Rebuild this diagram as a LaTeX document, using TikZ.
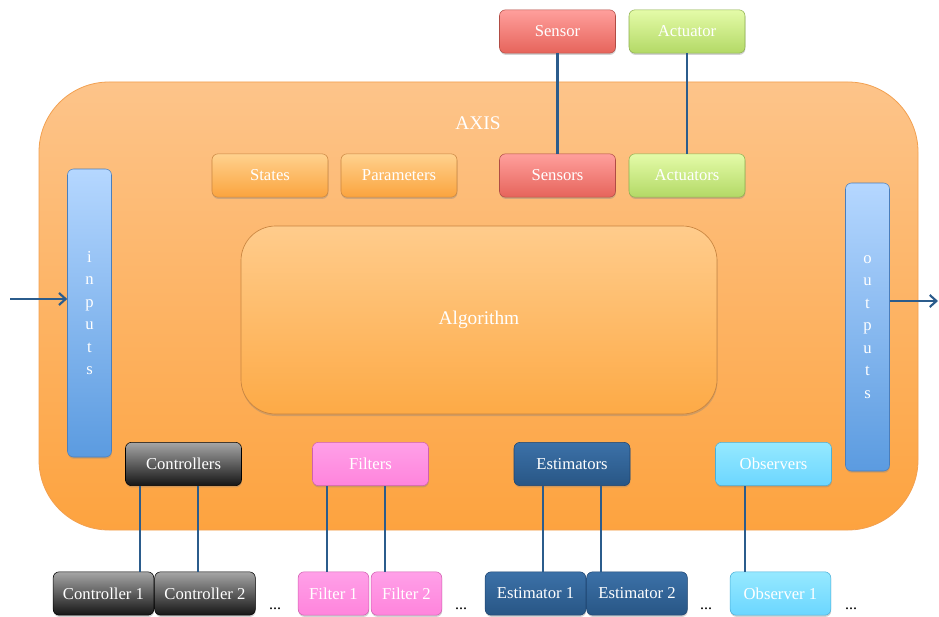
\documentclass[tikz,border=0pt]{standalone}
\usepackage{fontspec}
\setmainfont{Liberation Serif}
\usetikzlibrary{shadows,calc,arrows.meta}

\definecolor{linkblue}{HTML}{2B5C8C}
\definecolor{axistop}{HTML}{FDC48A}
\definecolor{axisbot}{HTML}{FDA33F}
\definecolor{axisline}{HTML}{F2A050}
\definecolor{algtop}{HTML}{FFCC8C}
\definecolor{algbot}{HTML}{FDAA46}
\definecolor{orgtop}{HTML}{FFD18E}
\definecolor{orgbot}{HTML}{FBA43E}
\definecolor{orgline}{HTML}{C98540}
\definecolor{redtop}{HTML}{FF9F9C}
\definecolor{redbot}{HTML}{E6645B}
\definecolor{redline}{HTML}{B04C44}
\definecolor{grntop}{HTML}{E4FBA8}
\definecolor{grnbot}{HTML}{B3D966}
\definecolor{grnline}{HTML}{8CAE4E}
\definecolor{bartop}{HTML}{B5D7FF}
\definecolor{barbot}{HTML}{5B9BE0}
\definecolor{barline}{HTML}{4A7EBC}
\definecolor{blktop}{HTML}{A6A6A6}
\definecolor{blkmid}{HTML}{4A4A4A}
\definecolor{blkbot}{HTML}{151515}
\definecolor{pnktop}{HTML}{FFA0E8}
\definecolor{pnkbot}{HTML}{FF84DC}
\definecolor{pnkline}{HTML}{D060B0}
\definecolor{esttop}{HTML}{3C71A8}
\definecolor{estbot}{HTML}{285685}
\definecolor{estline}{HTML}{1E4470}
\definecolor{cyntop}{HTML}{96E9FF}
\definecolor{cynbot}{HTML}{6BD6FF}
\definecolor{cynline}{HTML}{4AAFD8}

\begin{document}
\begin{tikzpicture}[x=0.75pt,y=-0.75pt,
  unit/.style={rounded corners=4.5pt, inner sep=0pt, text=white,
    font=\fontsize{12.5}{15}\selectfont, line width=0.4pt,
    drop shadow={shadow xshift=0.3pt, shadow yshift=-1.3pt, opacity=0.35}},
  wide/.style={unit, minimum width=87pt, minimum height=32.5pt},
  half/.style={unit, minimum width=75.5pt, minimum height=32.5pt},
  narrow/.style={unit, minimum width=53pt, minimum height=32.5pt},
  orangebox/.style={top color=orgtop, bottom color=orgbot, draw=orgline},
  redbox/.style={top color=redtop, bottom color=redbot, draw=redline},
  greenbox/.style={top color=grntop, bottom color=grnbot, draw=grnline},
  barbox/.style={top color=bartop, bottom color=barbot, draw=barline},
  blackbox/.style={top color=blktop, middle color=blkmid, bottom color=blkbot, draw=black},
  pinkbox/.style={top color=pnktop, bottom color=pnkbot, draw=pnkline},
  estbox/.style={top color=esttop, bottom color=estbot, draw=estline},
  cyanbox/.style={top color=cyntop, bottom color=cynbot, draw=cynline},
  link/.style={draw=linkblue, line width=2.2pt},
  feed/.style={draw=linkblue, line width=1.6pt, -{Straight Barb[length=5pt,width=9pt,line width=1.6pt]}},
  more/.style={anchor=base, font=\fontsize{12}{14}\selectfont, text=black, inner sep=0pt},
  bigtext/.style={text=white, font=\fontsize{14.5}{17}\selectfont}
]
\useasboundingbox (0,0) rectangle (939,617);

% enclosing block
\node[rounded corners=52.5pt, minimum width=659.25pt, minimum height=336pt,
      top color=axistop, bottom color=axisbot, draw=axisline, line width=0.6pt]
      (axis) at (478.5,306) {};
\node[bigtext] (axislabel) at (478,123) {AXIS};

% central algorithm block
\node[rounded corners=26pt, minimum width=357pt, minimum height=141pt, inner sep=0pt,
      top color=algtop, bottom color=algbot, draw=orgline, line width=0.5pt, bigtext,
      drop shadow={shadow xshift=0.3pt, shadow yshift=-1.5pt, opacity=0.35}]
      (alg) at (479,320) {Algorithm};

% input / output bars
\node[unit, barbox, minimum width=33pt, minimum height=216pt, align=center,
      font=\fontsize{12.5}{16.9}\selectfont] (inputs) at (89.5,313) {i\\n\\p\\u\\t\\s};
\node[unit, barbox, minimum width=33pt, minimum height=216pt, align=center,
      font=\fontsize{12.5}{16.9}\selectfont] (outputs) at (867.5,327) {o\\u\\t\\p\\u\\t\\s};

% top row inside the block
\node[wide, orangebox] (states) at (270,175.5) {States};
\node[wide, orangebox] (params) at (399,175.5) {Parameters};
\node[wide, redbox]    (sensors) at (557.5,175.5) {Sensors};
\node[wide, greenbox]  (actuators) at (687,175.5) {Actuators};

% external devices
\node[wide, redbox]   (sensor) at (557.5,31.5) {Sensor};
\node[wide, greenbox] (actuator) at (687,31.5) {Actuator};

% bottom row inside the block
\node[wide, blackbox] (ctrls) at (183.5,464) {Controllers};
\node[wide, pinkbox]  (filts) at (370.5,464) {Filters};
\node[wide, estbox]   (ests)  at (572,464) {Estimators};
\node[wide, cyanbox]  (obss)  at (773.5,464) {Observers};

% instances
\node[half, blackbox]  (c1) at (103.5,593.5) {Controller 1};
\node[half, blackbox]  (c2) at (205,593.5) {Controller 2};
\node[narrow, pinkbox] (f1) at (333.5,593.5) {Filter 1};
\node[narrow, pinkbox] (f2) at (406.5,593.5) {Filter 2};
\node[half, estbox]    (e1) at (535.5,593.5) {Estimator 1};
\node[half, estbox]    (e2) at (637,593.5) {Estimator 2};
\node[half, cyanbox]   (o1) at (780.5,593.5) {Observer 1};

\node[more] (cmore) at (275,609) {...};
\node[more] (fmore) at (461,609) {...};
\node[more] (emore) at (706,609) {...};
\node[more] (omore) at (851,609) {...};

% connections
\draw[link] (sensor.south) -- (sensors.north);
\draw[link] (actuator.south) -- (actuators.north);

\draw[link] ($(c1.north)+(36.5,0)$) coordinate (t1) -- (t1 |- ctrls.south);
\draw[link] ($(c2.north)+(-7,0)$) coordinate (t2) -- (t2 |- ctrls.south);
\draw[link] ($(f1.north)+(-6.5,0)$) coordinate (t3) -- (t3 |- filts.south);
\draw[link] ($(f2.north)+(-21.5,0)$) coordinate (t4) -- (t4 |- filts.south);
\draw[link] ($(e1.north)+(7.5,0)$) coordinate (t5) -- (t5 |- ests.south);
\draw[link] ($(e2.north)+(-36,0)$) coordinate (t6) -- (t6 |- ests.south);
\draw[link] ($(o1.north)+(-35.5,0)$) coordinate (t7) -- (t7 |- obss.south);

% signal flow
\coordinate (inlet) at (10,299);
\coordinate (outlet) at (938,301);
\draw[feed] (inlet) -- (inlet -| inputs.west);
\draw[feed] (outlet -| outputs.east) -- (outlet);
\end{tikzpicture}
\end{document}
